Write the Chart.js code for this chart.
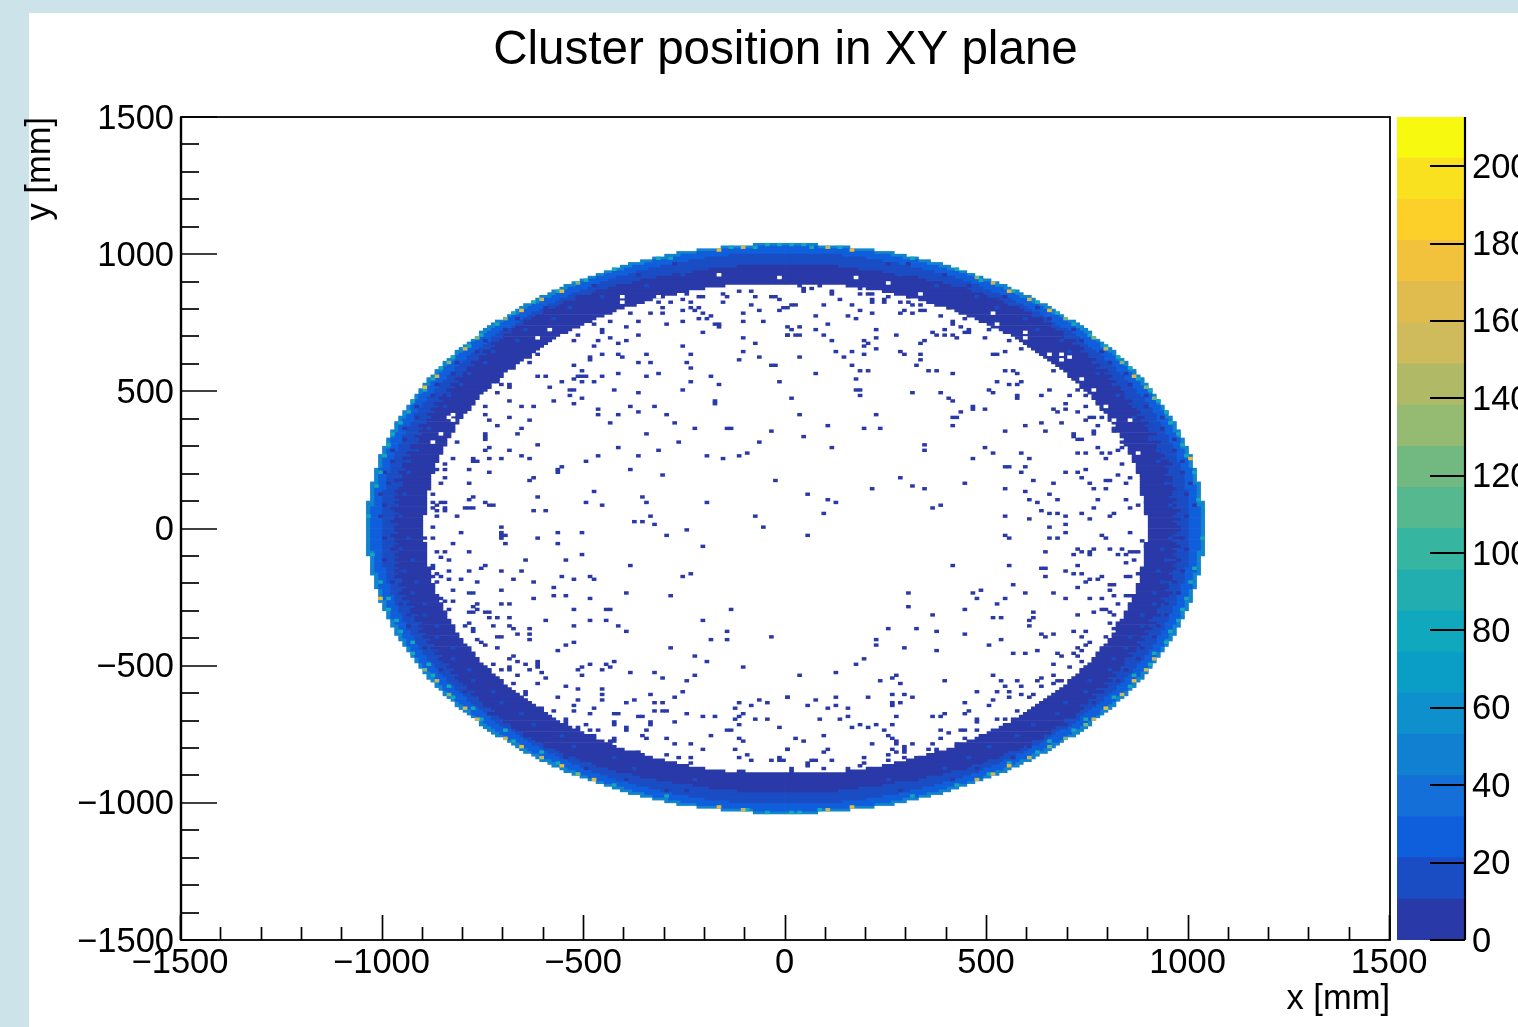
<!DOCTYPE html>
<html>
<head>
<meta charset="utf-8">
<title>Cluster position in XY plane</title>
<script src="https://cdn.jsdelivr.net/npm/chart.js@4/dist/chart.umd.min.js"></script>
<style>
  html, body { margin: 0; padding: 0; width: 1518px; height: 1027px; overflow: hidden; background: #cde3ea; }
  #panel { position: absolute; left: 29px; top: 13px; width: 1489px; height: 1014px; background: #fff; }
  #main { position: absolute; left: 0; top: 0; }
  #zbar { position: absolute; left: 1397px; top: 0; }
</style>
</head>
<body>
<div id="panel"></div>
<canvas id="main" width="1518" height="1027"></canvas>
<canvas id="zbar" width="121" height="1027"></canvas>
<script>
// Ring rows, half widths in mm for the row at |y| = 5, 15, 25 ... 1035
const outerEdge = [1040,1040,1040,1040,1040,1040,1040,1040,1040,1040,
  1030,1030,1030,1030,1030,1030,1030,1020,1020,1020,
  1020,1020,1010,1010,1010,1010,1010,1000,1000,1000,
  990,990,990,980,980,980,970,970,970,960,
  960,950,950,940,940,930,930,920,920,910,
  910,900,900,890,890,880,870,870,860,850,
  850,840,830,820,820,810,800,790,780,770,
  760,760,750,740,730,720,700,690,680,670,
  660,650,630,620,610,590,580,560,550,530,
  510,490,470,450,430,410,390,360,330,300,
  270,220,160,80];
const brightEdge = [1030,1030,1030,1030,1030,1030,1030,1030,1020,1020,
  1020,1020,1020,1020,1020,1020,1010,1010,1010,1010,
  1010,1010,1000,1000,1000,1000,990,990,990,980,
  980,980,980,970,970,960,960,960,950,950,
  940,940,940,930,930,920,920,910,910,900,
  900,890,880,880,870,870,860,850,850,840,
  830,820,820,810,800,790,780,780,770,760,
  750,740,730,720,710,700,690,680,660,650,
  640,630,610,600,580,570,560,540,520,510,
  490,470,450,430,400,380,350,330,290,260,
  220,160,80,0];
const blueEdge = [1000,1000,1000,1000,1000,1000,1000,1000,1000,1000,
  1000,1000,1000,1000,990,990,990,990,990,990,
  980,980,980,980,970,970,970,970,960,960,
  960,950,950,950,940,940,940,930,930,920,
  920,920,910,910,900,900,890,890,880,870,
  870,860,860,850,840,840,830,820,820,810,
  800,790,790,780,770,760,750,740,730,730,
  720,710,700,680,670,660,650,640,630,610,
  600,590,570,560,540,530,510,490,480,460,
  440,420,390,370,340,310,280,240,200,140,
  0,0,0,0];
const navyEdgeLeft = [970,960,980,970,970,960,970,980,960,970,
  960,970,960,970,960,950,960,970,950,950,
  960,940,950,950,940,950,930,940,920,930,
  930,910,920,920,900,910,900,910,890,890,
  880,890,870,880,860,870,850,860,850,830,
  840,820,830,810,820,800,800,790,790,770,
  780,760,760,740,750,730,720,730,710,700,
  700,680,680,670,650,650,630,620,600,600,
  570,560,550,520,510,480,470,440,420,380,
  360,320,280,230,190,120,0,0,0,0,
  0,0,0,0];
const navyEdgeRight = [980,970,960,980,960,970,980,960,970,960,
  970,950,970,960,970,960,950,960,960,940,
  950,950,940,960,950,930,940,930,930,920,
  920,930,910,900,920,900,910,890,900,880,
  890,870,880,870,870,850,860,840,840,840,
  830,830,810,820,800,810,790,800,770,780,
  760,770,750,750,730,740,730,710,720,690,
  690,690,670,660,660,640,640,610,610,590,
  580,550,540,530,500,490,460,450,410,390,
  350,330,270,240,180,130,0,0,0,0,
  0,0,0,0];
const innerEdge = [900,900,900,900,900,890,890,890,890,890,
  890,890,890,890,880,880,880,880,880,880,
  870,870,870,870,860,860,860,850,850,850,
  840,840,840,830,830,820,820,820,810,810,
  800,800,790,780,780,770,770,760,760,750,
  740,730,730,720,710,700,700,690,680,670,
  660,650,640,630,620,610,600,590,580,570,
  560,540,530,510,500,480,470,450,430,420,
  400,370,350,330,300,270,240,200,150,0,
  0,0,0,0,0,0,0,0,0,0,
  0,0,0,0];

// Lone filled bins inside the ring: [y, x, x, ...] in mm
const strayRows = [
  [885,34,84],[876,44,64,184],[865,-117,-88,44,114],[855,-245,-157,114,184,204,214,303,333],
  [846,-216,-206,-146,-76,-35,-26],[843,254,303],[834,-256,-16,134,214,244],
  [824,-318,-287,-236,-157,214,244,284,303],[814,-87,16,24,94,164,313,333],[804,-307,-236,-216,-6,3,404],
  [795,-256,-226,-65,-16,184,293,333,345],[785,-387,-337,-307,-206,-107,214,284,313],[775,-187,73,154,384],
  [764,-216,-197,174,445],[755,-436,-367,-256,-107,-55,414],[745,-476,-297,-177,-167,104,414],
  [734,-397,-167,5,34,434],[724,-456,14,73,225,394,454,503],[715,-456,-206,364,444,454],
  [705,-517,-367,3,5,24,34,94,274,374,394,414],[695,-436,-107,225,424,493],[685,-527,-466,-397,114,194,345,555],
  [675,-417,-76,204,333],[665,-476,-256,194],[654,225,584],[645,-107,124,164,284,543],
  [634,-616,-456,-417,-347,-236,194,293,333,513,523],[625,-636,-486,-407,-65,34,145],[615,-486,-117,333],
  [605,-636,-367,-337,-246],[594,-527,-35,-26,164,323],[583,-675,-236],
  [574,-507,184,204,355,374,543,565,665],[564,-417,-317,73,414,574],
  [554,-616,-596,-517,-507,-497,-456,-347,-187],[545,-717,-527,174],[535,-556,-507,-476,-236,-16,-717,523,584],
  [525,-705,-685,-167,554,574],[514,-685,-586],[503,-536,-527,-426,-256,174,184,503,654,724],
  [493,-715,-367,313,384,513],[484,-536,184,574,634,704,743],[474,-507,14,404,574],
  [464,-685,-576,-177,414],[455,-527,-177,694],[445,-747,-656,-626,-387,-327,464,743],
  [435,-466,464,493,665,694],[424,-367,434,675,724],[415,-747,-466,-417,-297,34,225],
  [405,-685,414,424,755,765,785],[395,-737,-636,743,805],[385,-436,-276,634,684],
  [375,-716,104,414,594,775],[365,-656,-226,-146,-136,194,234,814],[355,-35,543,644,764,814],
  [345,-745,-665,-347,714,764],[335,-747,44,714],[323,-747,724,734],[314,-816,-266,-65,834],
  [304,-616,345],[294,-737,-417,114,493,775,834],[284,-747,-685,-317,345,824],
  [275,-97,513,584,724,743,785,805],[265,-656,-466,-367,-197,-117],[255,-827,-777,-737,-705,-636,-157,464,604,795],
  [244,-777,-767,-497],[235,-847,834],[224,-556,543,554,594],[214,-866,-847,-787,-566,-387,743],
  [204,-737,-566,584,694,724],[195,-307,824,884],[185,-847,-626,284,734,854],
  [175,-636,-25,614,795,804],[165,-857,-787,444,665,754,844],[153,313],[144,214,345,543,764,795],
  [134,-476,594,884],[124,-876,54,654,884],[114,-777,-616,-357],[105,-787,103,604,675,775,844],
  [95,-876,-857,-847,-747,-497,-347,-197,123,624,894],[85,-866,-737,-727,-456,384,874],
  [75,-876,-847,-797,-787,-777,364,764,854],[65,-866,-847,-626,-596,634],[54,93,654,675,734,814],
  [44,-866,-816,-337,-76,543,694,804],[34,604,754],[25,-377,-357],[15,-327,694],
  [5,-876,-705,-55,654],[-2,-245],
  [-16,-807,-705,-566,-507,694,854],[-25,-297,-695,-705,54,543,785],[-35,-896,-876,-705,-616,554,654,675,795],
  [-45,884],[-55,-827,-695,-566],[-65,-206,894],[-75,724,764,804,834],[-84,-866,-847,-787,644,734,754,854,864,874],
  [-95,-507,714,754,824,844],[-106,-857],[-115,-837,-646,-546,864],[-125,844],
  [-135,-876,-747,-387,414,554,724],[-145,-876,-757,634,644],[-155,-837,-787,-705,-656,694],
  [-165,-866,-236,714,734,874],[-175,-886,-876,-857,-556,-486,-256,644,785,844,854],
  [-185,-837,-807,-675,-527,-476,754,774],[-197,-866,-767,-626,743],[-207,565,804,814],
  [-215,-576,724],[-226,-827,-705,484,804],[-236,-787,-777,-397,303,464,594,665],
  [-245,-576,-546,-287,814,844,854],[-255,-857,-626,-486,474,543,694,754,785],[-266,-847,-827],
  [-277,-767,-705,-685,523,824],[-286,-777,303],[-296,-837,-767,-527,-446,-436,-136,444,785,795],
  [-306,-787,-777,-747,-737,614,764,804],[-316,364,724,814],[-326,-737,-716,-685,513,533,614],
  [-335,-596,-486,-446,-206,604],[-345,-787,804,824],[-356,-797,-727,-685,-527,-417,604],
  [-367,-777,-675,-636,254,323,814],[-377,-777,-397,-146,374,714,743],[-386,-665,-636,444,634,665],
  [-396,-716,-705,-35,644,734,794],[-406,-767,-636,-186,-146,224,533],[-415,-757,-527,754],
  [-425,-747,-546,224,503,743],[-435,-716,-287,293,724],[-446,-566,374,624,734],
  [-456,565,594,675,714],[-467,-675,-226,684,724],[-475,-685,194],[-485,-665,-616,-426,-197,734],
  [-496,-727,-646,-616,-486,-446,174,665],[-505,-685,-616,-507,-436,-106,704],
  [-515,-705,-685,-636,-517,-456],[-525,-606,-387,-327,123],[-536,-665,-507,-226,34,274,513,665],
  [-547,-596,-307,264,634],[-556,-245,234,394,533,575,624,675,684],[-566,-675,-616,284,665],
  [-576,-546,543,584,634],[-586,-517,-456],[-595,-646,-256,474,523,554],[-605,-646,-456,-337,264,293,584,614],
  [-616,-566,-275,4,5,123,204,313,554,604],[-627,-517,-456,-377,-65,73,513],
  [-637,-397,-327,-307,-117,-45,264,284,444],[-646,-527,-87,54,123,264,503],[-656,-606,-476,-126,103,154],
  [-666,-576,-527,-327,-307,-297,454,575],[-676,-486,-426,-417,-245,-106,394,444],
  [-685,-367,-357,-206,-176,-117,154,274,364,384],[-695,-546,-76,-45,-126,83,134,474,523,543,565],
  [-706,-546,-426,-337,-276,474],[-717,-497,-426,-337,-117,184,224,264],[-727,-517,-397,-15,164,204],
  [-736,-486,-466,-397,-347,-146,-136,244,384,434,444,474],[-745,404],[-754,-476,-357,-186,93,254],
  [-764,-426,-347,-297,-117,24,264,384,444],[-774,-436,-426,-106,44,274],[-785,-276,-236,214,274,313,364,424],
  [-796,293],[-806,-206,-126,4,5,103,264,293,355,374],[-815,-367,93,274,293],[-825,-297,-97,254],
  [-835,-266,-236,-117,-15,194,293,323],[-844,-87,-35,-15,-5,64,73,114,254],[-855,-236,54,194],
  [-865,54,184],[-875,14,93,154],[-885,-117,-106,14]
];

// Mottling of the ring, estimated: darker bins out in the blue, same [y, x, x, ...] layout
const navyFleckRows = [
  [960,-280,250,300],[-960,280,-250,-300],[920,392,-370],[-920,-392,410],[880,-475,450],[-880,475,-500],
  [840,543,-520],[-840,-543,560],[800,-600,620],[-800,600,-580],[760,650,-670],[-760,-650,630],
  [720,-694,710],[-720,694,-680],[680,733,-750],[-680,-733,715],[640,-768,785],[-640,768,-750],
  [600,800,-815],[-600,-800,785],[560,-828,845],[-560,828,-810],[520,854,-870],[-520,-854,840],
  [480,-877,895],[-480,877,-860],[440,898,-915],[-440,-898,880],[400,-916,930],[-400,916,-900],
  [360,933,-945],[-360,-933,920],[320,-947,960],[-320,947,-935],[280,960,-975],[-280,-960,945],
  [240,-971,985],[-240,971,-955],[200,980,-995],[-200,-980,965],[160,-987,1000],[-160,987,-970],
  [120,993,-1005],[-120,-993,975],[80,-997,1010],[-80,997,-980],[40,999,-1010],[-40,-999,985]
];
// brighter bins inside the navy part
const blueFleckRows = [
  [920,-256,280],[-920,256,-230],[880,371,-350],[-880,-371,395],[840,-454,470],[-840,454,-430],
  [800,521,-540],[-800,-521,500],[760,-578,595],[-760,578,-560],[720,627,-645],[-720,-627,610],
  [680,-670,685],[-680,670,-655],[640,709,-725],[-640,-709,690],[600,-743,760],[-600,743,-725],
  [560,774,-790],[-560,-774,755],[520,-801,815],[-520,801,-785],[480,826,-840],[-480,-826,810],
  [440,-848,860],[-440,848,-830],[400,867,-885],[-400,-867,850],[360,-885,900],[-360,885,-870],
  [320,900,-915],[-320,-900,885],[280,-913,925],[-280,913,-895],[240,924,-940],[-240,-924,910],
  [200,-934,950],[-200,934,-920],[160,941,-955],[-160,-941,925],[120,-947,960],[-120,947,-930],
  [80,952,-965],[-80,-952,935],[40,-954,970],[-40,954,-940]
];
// teal bins along the rim
const tealRows = [
  [1035,-50,-20,10,40],[1025,-140,-80,60,130],[-1035,-50,10,30],[-1025,-100,80],
  [980,-317,-290,317],[-980,317,-300],[940,421,-421],[-940,-421,421],[900,-500,480],[-900,500,-520],
  [860,567,-567],[-860,-567,550],[820,-623,623],[-820,623,-605],[780,672,-672],[-780,-672,655],
  [740,-716,716],[-740,716,-700],[700,755,-755],[-700,-755,740],[660,-790,790],[-660,790,-775],
  [620,822,-822],[-620,-822,810],[580,-851,851],[-580,851,-840],[540,877,-877],[-540,-877,865],
  [500,-900,900],[-500,900,-890],[460,921,-921],[-460,-921,910],[420,-940,940],[-420,940,-930],
  [380,957,-957],[-380,-957,950],[340,-972,972],[-340,972,-965],[300,985,-985],[-300,-985,980],
  [260,-996,996],[-260,996,-990],[200,1010,-1010],[-200,-1010,1005],[150,-1019],[-150,1019],
  [100,1025],[-100,-1025],[40,-1034],[-40,1034]
];

// Hot bins on the outer rim, x and y in mm
const hotYellowX = [-558,-657,-899,553,653,862,-656,-558,-478,862,794,553,-168,163,-168,163,-1006,1004];
const hotYellowY = [864,794,513,864,794,553,-796,-867,-918,-557,-657,-867,1014,1014,-1014,-1014,-255,255];
const hotKhakiX = [-607,-799,-868,512,603,794,-867,-798,-768,-697,-607,913,893,832,764,603,512,472,-108,102,-108,102];
const hotKhakiY = [832,653,553,894,832,651,-557,-657,-696,-767,-837,-478,-517,-606,-696,-837,-897,-918,1024,1024,-1024,-1024];
const hotGreenX = [-518,-697,-770,-838,472,694,764,832,892,912,-897,-837,-518,743,694,653];
const hotGreenY = [894,764,696,604,915,763,695,603,514,474,-515,-605,-898,-718,-767,-796];

// Empty bins left inside the ring
const holeX = [-586,-616,-408,-407,-317,-167,-15,-837,-827,-827,-857,-876,174,254,333,513,523,593,593,654,684,704,684,733,764,795,814,854,874];
const holeY = [725,696,845,825,845,924,916,405,415,395,346,314,915,894,854,785,745,715,695,634,634,622,615,545,503,445,394,394,275];

// Colour scale, 20 contours
const zEdges = [0,10.6,21.3,31.9,42.5,53.2,63.8,74.4,85.1,95.7,106.4,117,127.6,138.3,148.9,159.5,170.2,180.8,191.4,202.1,212.7];
const zColors = ['#2a39a8','#1a4cc4','#0f5fdc','#1470d8','#1280d0','#0e90cc','#0a9ec6','#10a8bc','#22aeae','#36b6a0',
  '#55b88e','#72b981','#95ba72','#b0ba66','#cfba5c','#e0bc4e','#f3c23c','#fdd029','#f9e11f','#f7f90f'];
const zTicks = [0,20,40,60,80,100,120,140,160,180,200];

const NAVY = zColors[0];
const BLUE1 = zColors[1];
const BLUE2 = zColors[2];
const RIM = '#1284ce';
const TEAL = '#14a8b8';

function binCentre(v) { return Math.floor(v / 10) * 10 + 5; }

function ringSpans(outerL, innerL, outerR, innerR) {
  const spans = [];
  for (let i = 0; i < outerEdge.length; i++) {
    const row = 5 + i * 10;
    [row, -row].forEach(function (y) {
      if (outerL[i] > innerL[i]) spans.push({ y: y, x: [-outerL[i], -innerL[i]] });
      if (outerR[i] > innerR[i]) spans.push({ y: y, x: [innerR[i], outerR[i]] });
    });
  }
  return spans;
}

function cells(xs, ys) {
  return xs.map(function (x, i) {
    const c = binCentre(x);
    return { y: binCentre(ys[i]), x: [c - 5, c + 5] };
  });
}

function rowCells(rows) {
  const out = [];
  rows.forEach(function (r) {
    for (let i = 1; i < r.length; i++) {
      const c = binCentre(r[i]);
      out.push({ y: binCentre(r[0]), x: [c - 5, c + 5] });
    }
  });
  return out;
}

function barSet(data, color) {
  return { data: data, backgroundColor: color, barThickness: 2.75, grouped: false };
}

// ROOT style inward ticks and frame
const frameTicks = {
  id: 'frameTicks',
  afterDatasetsDraw: function (chart) {
    const ctx = chart.ctx, a = chart.chartArea;
    const xs = chart.scales.x, ys = chart.scales.y;
    ctx.save();
    ctx.strokeStyle = '#000';
    ctx.lineWidth = 1.7;
    for (let v = -1500; v <= 1500; v += 100) {
      const px = Math.round(xs.getPixelForValue(v)) - 0.5;
      const len = v % 500 === 0 ? 25 : 13;
      ctx.beginPath(); ctx.moveTo(px, a.bottom); ctx.lineTo(px, a.bottom - len); ctx.stroke();
      const py = Math.round(ys.getPixelForValue(v));
      const w = v % 500 === 0 ? 36 : 18;
      ctx.beginPath(); ctx.moveTo(a.left, py); ctx.lineTo(a.left + w, py); ctx.stroke();
    }
    ctx.lineWidth = 1.8;
    ctx.strokeRect(a.left, a.top, a.right - a.left, a.bottom - a.top);
    ctx.lineWidth = 2.4;
    ctx.beginPath(); ctx.moveTo(a.left, a.top); ctx.lineTo(a.left, a.bottom); ctx.stroke();
    ctx.restore();
  }
};

const zbarTicks = {
  id: 'zbarTicks',
  afterDatasetsDraw: function (chart) {
    const ctx = chart.ctx, a = chart.chartArea, zs = chart.scales.y;
    ctx.save();
    ctx.strokeStyle = '#000';
    ctx.lineWidth = 1.8;
    zTicks.forEach(function (v) {
      const py = Math.round(zs.getPixelForValue(v));
      ctx.beginPath(); ctx.moveTo(a.right - 35, py); ctx.lineTo(a.right, py); ctx.stroke();
    });
    ctx.lineWidth = 2.2;
    ctx.beginPath(); ctx.moveTo(a.right, a.top); ctx.lineTo(a.right, a.bottom); ctx.stroke();
    ctx.restore();
  }
};

function minusLabel(v) {
  return v < 0 ? '\u2212' + Math.abs(v) : String(v);
}

const font = 'Liberation Sans';

new Chart(document.getElementById('main').getContext('2d'), {
  type: 'bar',
  data: {
    // Chart.js paints the first dataset last, so top layer goes first
    datasets: [
      barSet(cells(hotGreenX, hotGreenY), '#76b880'),
      barSet(cells(hotKhakiX, hotKhakiY), '#c4b95e'),
      barSet(cells(hotYellowX, hotYellowY), '#e8bd3e'),
      barSet(cells(holeX, holeY), '#ffffff'),
      barSet(rowCells(strayRows), NAVY),
      barSet(rowCells(tealRows), TEAL),
      barSet(rowCells(blueFleckRows), BLUE1),
      barSet(rowCells(navyFleckRows), NAVY),
      barSet(ringSpans(navyEdgeLeft, innerEdge, navyEdgeRight, innerEdge), NAVY),
      barSet(ringSpans(blueEdge, navyEdgeLeft, blueEdge, navyEdgeRight), BLUE1),
      barSet(ringSpans(brightEdge, blueEdge, brightEdge, blueEdge), BLUE2),
      barSet(ringSpans(outerEdge, brightEdge, outerEdge, brightEdge), RIM)
    ]
  },
  options: {
    indexAxis: 'y',
    responsive: false,
    animation: false,
    events: [],
    layout: { autoPadding: false, padding: { left: 0, right: 128, top: 0, bottom: 0 } },
    plugins: {
      legend: { display: false },
      tooltip: { enabled: false },
      title: {
        display: true,
        text: 'Cluster position in XY plane',
        color: '#000',
        fullSize: false,
        font: { family: font, size: 47.6, weight: 'normal' },
        padding: { top: 22, bottom: 37.9 }
      }
    },
    scales: {
      x: {
        type: 'linear', min: -1500, max: 1500, offset: false,
        grid: { display: false, drawTicks: false },
        border: { display: false },
        afterFit: function (s) { s.height = 87; },
        ticks: {
          stepSize: 500, autoSkip: false, maxRotation: 0, padding: 3, labelOffset: -1, color: '#000',
          font: { family: font, size: 34.5 }, callback: minusLabel
        },
        title: {
          display: true, text: 'x [mm]', align: 'end', color: '#000',
          font: { family: font, size: 34.5 }, padding: { top: 13, bottom: 7 }
        }
      },
      y: {
        type: 'linear', min: -1500, max: 1500, offset: false,
        grid: { display: false, drawTicks: false },
        border: { display: false },
        afterFit: function (s) { s.width = 181; },
        ticks: {
          stepSize: 500, autoSkip: false, padding: 7, labelOffset: 2, color: '#000',
          font: { family: font, size: 34.5 }, callback: minusLabel
        },
        title: {
          display: true, text: 'y [mm]', align: 'end', color: '#000',
          font: { family: font, size: 34.5 }, padding: { top: 20, bottom: 20 }
        }
      }
    }
  },
  plugins: [frameTicks]
});

new Chart(document.getElementById('zbar').getContext('2d'), {
  type: 'bar',
  data: {
    labels: ['z'],
    datasets: zColors.map(function (c, i) {
      return { data: [[zEdges[i], zEdges[i + 1]]], backgroundColor: c, barPercentage: 1, categoryPercentage: 1, grouped: false };
    })
  },
  options: {
    responsive: false,
    animation: false,
    events: [],
    layout: { autoPadding: false, padding: { left: 0, right: 0, top: 117, bottom: 87 } },
    plugins: { legend: { display: false }, tooltip: { enabled: false }, title: { display: false } },
    scales: {
      x: { display: false },
      y: {
        position: 'right', min: 0, max: 212.7,
        grid: { display: false, drawTicks: false },
        border: { display: false },
        afterFit: function (s) { s.width = 53; },
        ticks: {
          stepSize: 20, autoSkip: false, includeBounds: false, padding: 7, labelOffset: 2, color: '#000',
          font: { family: font, size: 34.5 }
        }
      }
    }
  },
  plugins: [zbarTicks]
});
</script>
</body>
</html>
